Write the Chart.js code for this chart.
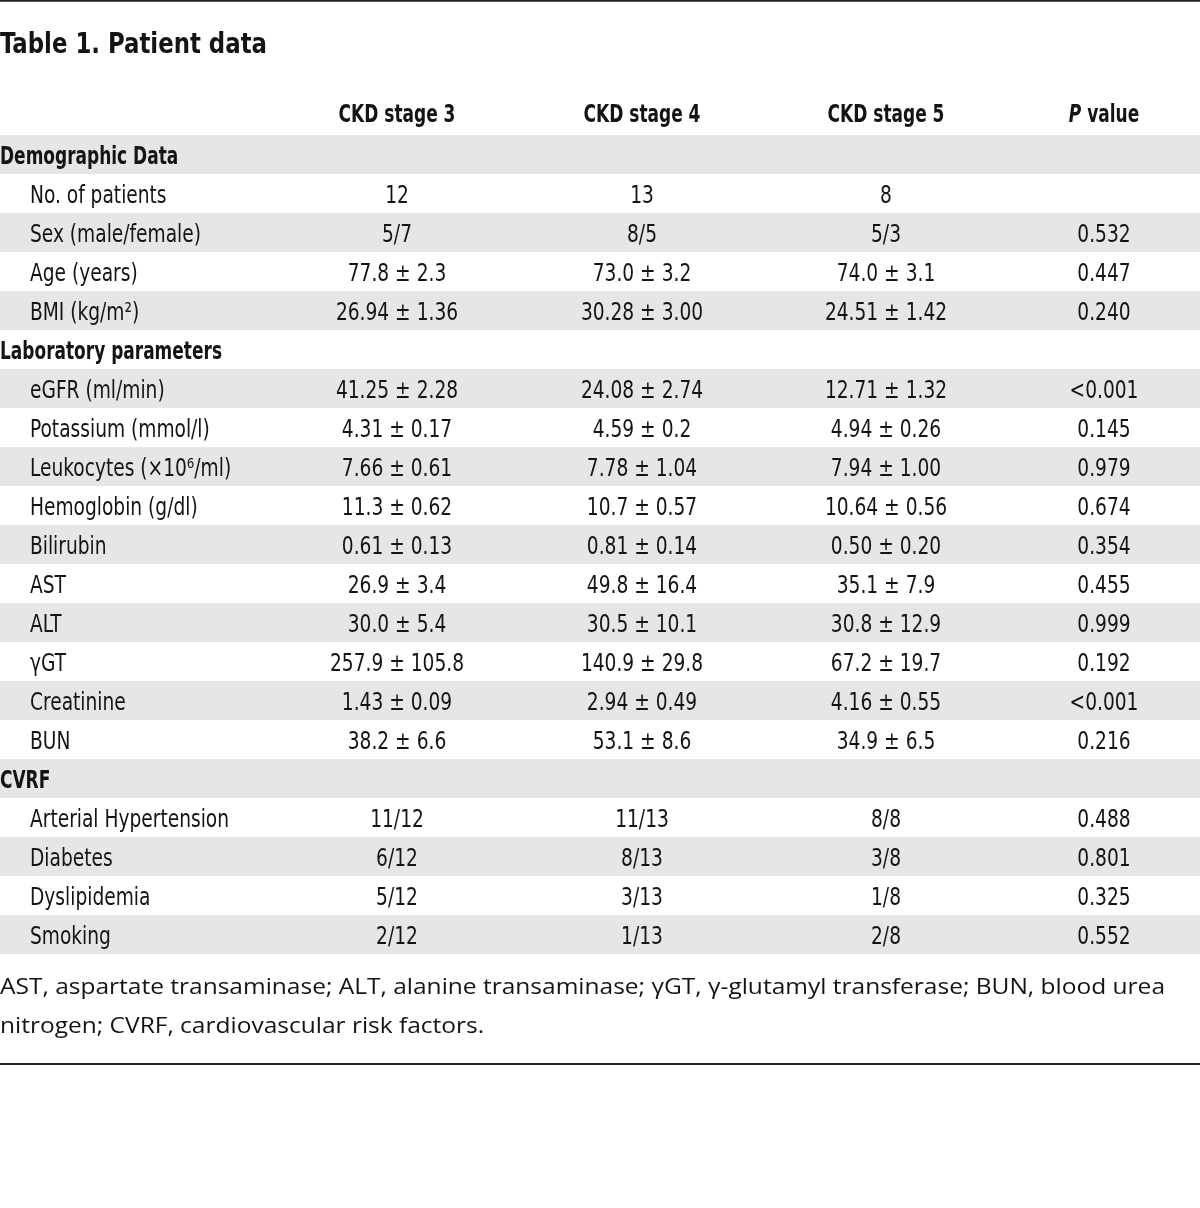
<!DOCTYPE html>
<html>
<head>
<meta charset="utf-8">
<script src="https://cdn.jsdelivr.net/npm/chart.js@4.4.1/dist/chart.umd.min.js"></script>
<style>
  html, body { margin: 0; padding: 0; background: #fff; }
  canvas { display: block; }
</style>
</head>
<body>
<canvas id="tableChart" width="1200" height="1208"></canvas>
<script>
// table content
const title = 'Table 1. Patient data';
const columnHeads = ['CKD stage 3', 'CKD stage 4', 'CKD stage 5', 'P value'];
const rowLabels = [
  'Demographic Data', 'No. of patients', 'Sex (male/female)', 'Age (years)', 'BMI (kg/m\u00B2)',
  'Laboratory parameters', 'eGFR (ml/min)', 'Potassium (mmol/l)', 'Leukocytes (\u00D710\u2076/ml)',
  'Hemoglobin (g/dl)', 'Bilirubin', 'AST', 'ALT', '\u03B3GT', 'Creatinine', 'BUN',
  'CVRF', 'Arterial Hypertension', 'Diabetes', 'Dyslipidemia', 'Smoking'
];
const sectionRows = [0, 5, 16];
const stage3 = ['', '12', '5/7', '77.8 ± 2.3', '26.94 ± 1.36', '', '41.25 ± 2.28', '4.31 ± 0.17', '7.66 ± 0.61',
  '11.3 ± 0.62', '0.61 ± 0.13', '26.9 ± 3.4', '30.0 ± 5.4', '257.9 ± 105.8', '1.43 ± 0.09', '38.2 ± 6.6',
  '', '11/12', '6/12', '5/12', '2/12'];
const stage4 = ['', '13', '8/5', '73.0 ± 3.2', '30.28 ± 3.00', '', '24.08 ± 2.74', '4.59 ± 0.2', '7.78 ± 1.04',
  '10.7 ± 0.57', '0.81 ± 0.14', '49.8 ± 16.4', '30.5 ± 10.1', '140.9 ± 29.8', '2.94 ± 0.49', '53.1 ± 8.6',
  '', '11/13', '8/13', '3/13', '1/13'];
const stage5 = ['', '8', '5/3', '74.0 ± 3.1', '24.51 ± 1.42', '', '12.71 ± 1.32', '4.94 ± 0.26', '7.94 ± 1.00',
  '10.64 ± 0.56', '0.50 ± 0.20', '35.1 ± 7.9', '30.8 ± 12.9', '67.2 ± 19.7', '4.16 ± 0.55', '34.9 ± 6.5',
  '', '8/8', '3/8', '1/8', '2/8'];
const pValues = ['', '', '0.532', '0.447', '0.240', '', '<0.001', '0.145', '0.979', '0.674', '0.354', '0.455',
  '0.999', '0.192', '<0.001', '0.216', '', '0.488', '0.801', '0.325', '0.552'];
const footnote = [
  'AST, aspartate transaminase; ALT, alanine transaminase; \u03B3GT, \u03B3-glutamyl transferase; BUN, blood urea',
  'nitrogen; CVRF, cardiovascular risk factors.'
];

// layout, in row units (one unit = one table row)
const colX = [397, 642, 886, 1104];
const labelIndent = 30;
const textNudge = 0.07;
const titleRow = -2.86, headRow = -1.08, topRule = -3.94, bottomRule = 23.32;
const footRows = [21.37, 22.37];

const condensed = "'Liberation Sans Narrow', 'DejaVu Sans Condensed', 'Liberation Sans', sans-serif";
const fonts = {
  title: { font: "bold 28px " + condensed, ref: title, width: 267 },
  bold: { font: "bold 25px " + condensed, ref: 'Laboratory parameters', width: 222 },
  body: { font: "25px " + condensed, ref: 'Arterial Hypertension', width: 199 },
  foot: { font: "22px 'Open Sans', 'Noto Sans', sans-serif", ref: footnote[0], width: 1165 }
};

function squeeze(ctx, f) {
  ctx.font = f.font;
  return f.width / ctx.measureText(f.ref).width;
}

function putText(ctx, f, str, x, y, align) {
  const sx = squeeze(ctx, f);
  ctx.save();
  ctx.font = f.font;
  ctx.textAlign = align;
  ctx.textBaseline = 'middle';
  ctx.translate(x, y);
  ctx.scale(sx, 1);
  ctx.fillText(str, 0, 0);
  ctx.restore();
}

const textPlugin = {
  id: 'tableText',
  afterDatasetsDraw(chart) {
    const { ctx, scales: { x, y } } = chart;
    ctx.fillStyle = '#141414';
    putText(ctx, fonts.title, title, x.getPixelForValue(0), y.getPixelForValue(titleRow + textNudge), 'left');

    // header row
    const hy = y.getPixelForValue(headRow + textNudge);
    for (let c = 0; c < 3; c++) {
      putText(ctx, fonts.bold, columnHeads[c], x.getPixelForValue(colX[c]), hy, 'center');
    }
    // "P value" with italic P
    const sx = squeeze(ctx, fonts.bold);
    ctx.font = 'italic ' + fonts.bold.font;
    const wP = ctx.measureText('P').width * sx;
    ctx.font = fonts.bold.font;
    const wV = ctx.measureText(' value').width * sx;
    const left = x.getPixelForValue(colX[3]) - (wP + wV) / 2;
    putText(ctx, { ...fonts.bold, font: 'italic ' + fonts.bold.font }, 'P', left, hy, 'left');
    putText(ctx, fonts.bold, ' value', left + wP, hy, 'left');

    rowLabels.forEach((lab, i) => {
      const ry = y.getPixelForValue(i + textNudge);
      if (sectionRows.includes(i)) {
        putText(ctx, fonts.bold, lab, x.getPixelForValue(0), ry, 'left');
        return;
      }
      putText(ctx, fonts.body, lab, x.getPixelForValue(labelIndent), ry, 'left');
      [stage3, stage4, stage5, pValues].forEach((col, c) => {
        if (col[i]) putText(ctx, fonts.body, col[i], x.getPixelForValue(colX[c]), ry, 'center');
      });
    });

    footnote.forEach((line, k) => {
      putText(ctx, fonts.foot, line, x.getPixelForValue(0), y.getPixelForValue(footRows[k]), 'left');
    });
  }
};

// shaded rows: every other row, starting with the first
const stripes = rowLabels.map((_, i) => i).filter(i => i % 2 === 0).map(i => ({ x: [0, 1200], y: i }));

new Chart(document.getElementById('tableChart'), {
  type: 'bar',
  data: {
    datasets: [
      {
        type: 'bar',
        indexAxis: 'y',
        data: stripes,
        backgroundColor: '#e6e6e6',
        borderWidth: 0,
        categoryPercentage: 1,
        barPercentage: 0.5
      },
      {
        type: 'line',
        data: [{ x: 0, y: topRule }, { x: 1200, y: topRule }],
        borderColor: '#222',
        borderWidth: 2,
        pointRadius: 0
      },
      {
        type: 'line',
        data: [{ x: 0, y: bottomRule }, { x: 1200, y: bottomRule }],
        borderColor: '#222',
        borderWidth: 2,
        pointRadius: 0
      }
    ]
  },
  options: {
    responsive: false,
    animation: false,
    devicePixelRatio: 1,
    layout: { padding: 0 },
    scales: {
      x: { type: 'linear', min: 0, max: 1200, offset: false, display: false },
      y: { type: 'linear', min: -3.962, max: 27.013, reverse: true, offset: false, display: false }
    },
    plugins: { legend: { display: false }, tooltip: { enabled: false } }
  },
  plugins: [textPlugin]
});
</script>
</body>
</html>
